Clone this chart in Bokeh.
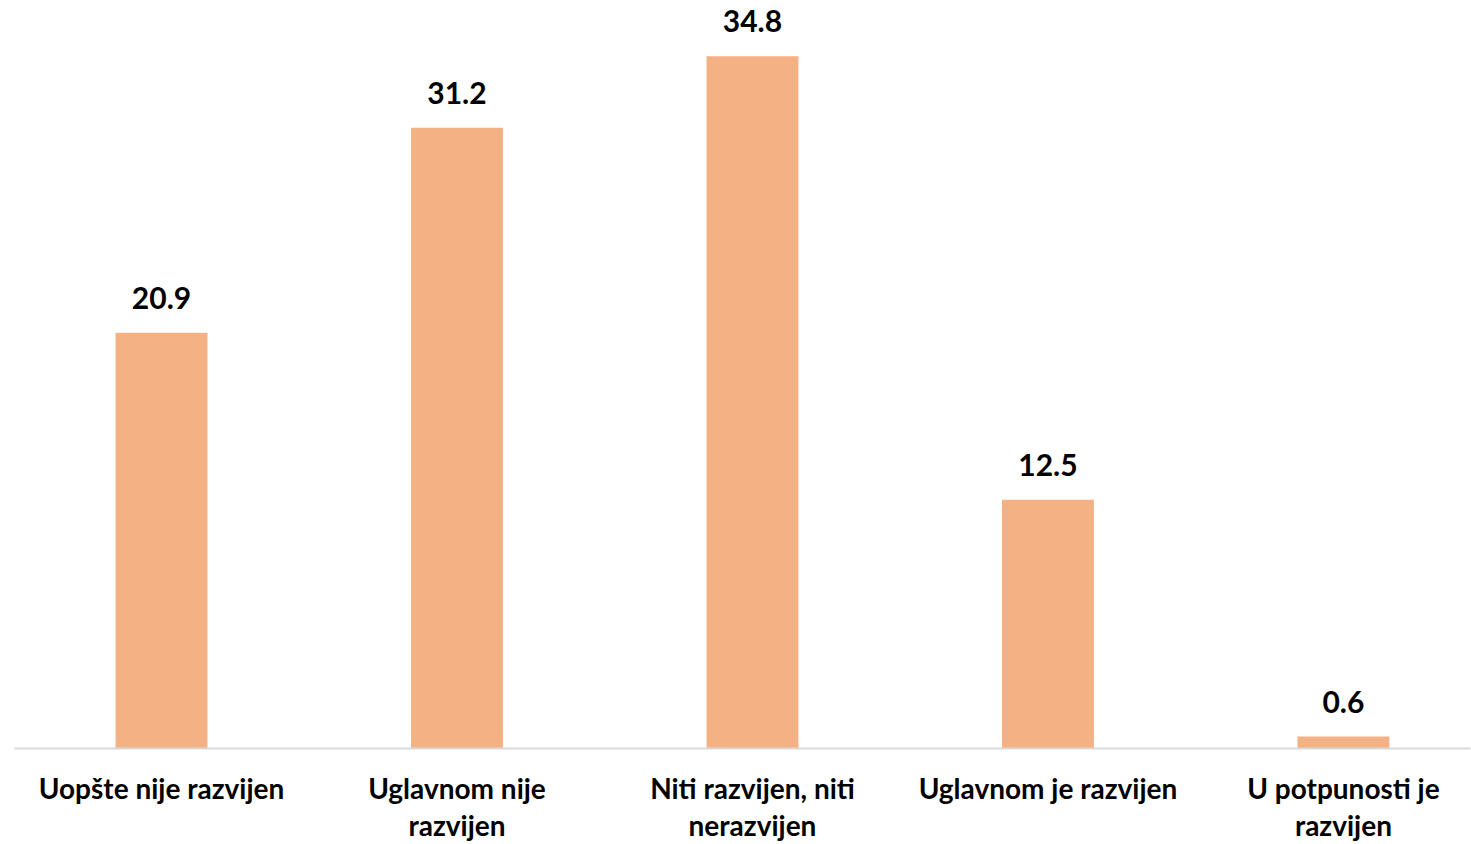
from bokeh.plotting import figure
from bokeh.models import ColumnDataSource, LabelSet, Range1d, FixedTicker
from bokeh.core.properties import value
from bokeh.embed import file_html
from bokeh.resources import INLINE

categories = ["Uopšte nije razvijen", "Uglavnom nije\nrazvijen", "Niti razvijen, niti\nnerazvijen",
              "Uglavnom je razvijen", "U potpunosti je\nrazvijen"]
values = [20.9, 31.2, 34.8, 12.5, 0.6]
positions = [1, 2, 3, 4, 5]
value_labels = [f"{v:.1f}" for v in values]

src = ColumnDataSource(dict(x=positions, top=values, lab=value_labels))

p = figure(frame_width=1456, frame_height=748, output_backend="svg", toolbar_location=None,
           x_range=Range1d(0.5025, 5.43), y_range=Range1d(0, 37.6),
           min_border_left=14, min_border_right=1, min_border_top=0, min_border_bottom=90)
p.outline_line_color = None
p.xgrid.visible = False
p.ygrid.visible = False
p.yaxis.visible = False

p.vbar(x="x", top="top", width=0.311, bottom=0, source=src, fill_color="#F4B183", line_color=None)

labels = LabelSet(x="x", y="top", text="lab", source=src, text_align="center",
                  text_baseline="alphabetic", y_offset=24, text_font=value("Lato"),
                  text_font_style="bold", text_font_size="30px", text_color="#000000")
p.add_layout(labels)

ax = p.xaxis[0]
ax.ticker = FixedTicker(ticks=positions)
ax.major_label_overrides = {pos: lab for pos, lab in zip(positions, categories)}
ax.axis_line_color = "#d9d9d9"
ax.axis_line_width = 2
ax.major_tick_line_color = None
ax.minor_tick_line_color = None
ax.major_label_standoff = 16
ax.major_label_text_font = "Lato"
ax.major_label_text_font_style = "bold"
ax.major_label_text_font_size = "28px"
ax.major_label_text_color = "#000000"
ax.major_label_text_line_height = 1.1

open("out.html", "w").write(file_html(p, INLINE))
